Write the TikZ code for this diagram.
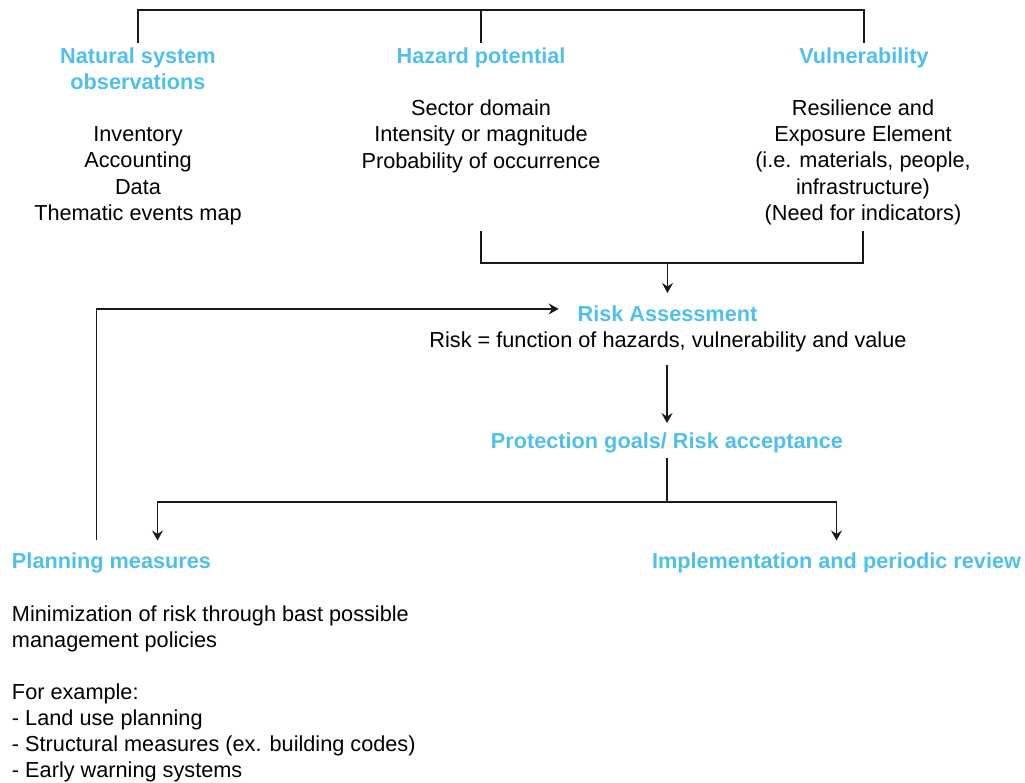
\documentclass[tikz,border=0pt]{standalone}
\usepackage{fontspec}
\setmainfont{Liberation Sans}
\usetikzlibrary{arrows.meta}
\definecolor{titleblue}{RGB}{79,192,237}
\begin{document}
\begin{tikzpicture}[x=1pt,y=-1pt,
  every node/.style={inner sep=0pt, outer sep=0pt, font=\fontsize{21.7}{26.4}\selectfont},
  head/.style={font=\fontsize{21.7}{25.6}\selectfont\bfseries, text=titleblue, align=center, anchor=base},
  body/.style={align=center, anchor=base},
  link/.style={line width=1.3pt, draw=black!90},
  arr/.style={link, -{Stealth[length=10pt,width=11pt,inset=3.5pt]}}
]
\useasboundingbox (0,0) rectangle (1025,783);

% column headings and their contents (placed by the baseline of the last line)
\node[head] (nat) at (138,89.5) {Natural system\\observations};
\node[head] (haz) at (481,64) {Hazard potential};
\node[head] (vul) at (864,64) {Vulnerability};
\node[body] (natb) at (138,220.7) {Inventory\\Accounting\\Data\\Thematic events map};
\node[body] (hazb) at (481,168.3) {Sector domain\\Intensity or magnitude\\Probability of occurrence};
\node[body] (vulb) at (863,220.7) {Resilience and\\Exposure Element\\(i.e. materials, people,\\infrastructure)\\(Need for indicators)};

% assessment chain
\node[head] (risk) at (667.5,321.7) {Risk Assessment};
\node[body] (riskf) at (668,347.3) {Risk = function of hazards, vulnerability and value};
\node[head] (prot) at (667,448.3) {Protection goals/ Risk acceptance};
\node[head, anchor=base west] (plan) at (12,568.2) {Planning measures};
\node[head] (impl) at (836.5,568.2) {Implementation and periodic review};
\node[body, align=left, anchor=base west, font=\fontsize{21.7}{26}\selectfont] (planb) at (12,777.3)
  {Minimization of risk through bast possible\\management policies\\[26pt]For example:\\- Land use planning\\- Structural measures (ex. building codes)\\- Early warning systems};

% helper levels
\coordinate (topY) at (0,10);
\coordinate (mergeY) at (0,263);
\coordinate (splitY) at (0,502);
\coordinate (vfoot) at ([yshift=-6pt]vulb.south);

% top bracket over the three headings
\draw[link] ([yshift=5pt]nat.north) |- (haz.north |- topY) -| ([yshift=5pt]vul.north);
\draw[link] (haz.north |- topY) -- ([yshift=5pt]haz.north);

% hazard and vulnerability feed the risk assessment
\draw[link] (hazb.south |- vfoot) |- (risk.north |- mergeY) -| (vfoot);
\draw[arr] (risk.north |- mergeY) -- ([yshift=13pt]risk.north);

% risk -> protection goals
\draw[arr] (prot.north |- riskf.south) ++(0,13) -- ([yshift=9.5pt]prot.north);

% protection goals -> planning / implementation
\draw[link] (prot.south) ++(0,5) -- (prot.south |- splitY);
\draw[arr] (prot.south |- splitY) -| ([xshift=46pt,yshift=12pt]plan.north);
\draw[arr] (prot.south |- splitY) -| ([yshift=12pt]impl.north);

% feedback from planning to the risk assessment
\draw[arr] ([xshift=-15pt,yshift=12pt]plan.north) |- ([xshift=-19pt,yshift=5pt]risk.west);
\end{tikzpicture}
\end{document}
